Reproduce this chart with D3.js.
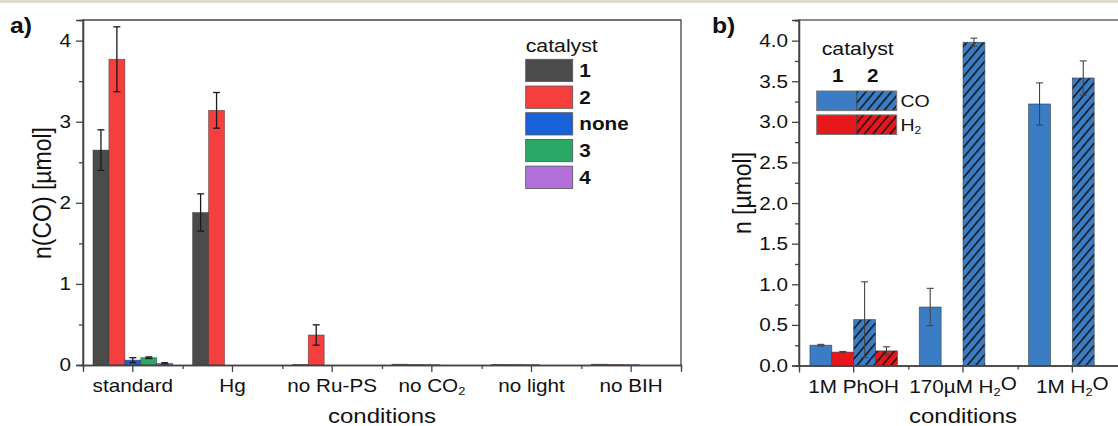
<!DOCTYPE html>
<html><head><meta charset="utf-8">
<script src="https://cdn.jsdelivr.net/npm/d3@7"></script>
<style>
html,body{margin:0;padding:0;background:#fff;}
svg{display:block;font-family:"Liberation Sans",Arial,sans-serif;}
</style></head>
<body>
<svg id="chart" width="1118" height="426"></svg>
<script>
// ---------- DATA: panel a ----------
const conditionsA = ["standard", "Hg", "no Ru-PS", "no CO_2", "no light", "no BIH"];
const catalystsA = ["1", "2", "none", "3", "4"];
const cat1Values = [2.65, 1.88, 0.005, 0.01, 0.006, 0.01];
const cat1Errors = [0.25, 0.23, 0, 0, 0, 0];
const cat2Values = [3.77, 3.14, 0.37, 0.006, 0.005, 0.006];
const cat2Errors = [0.40, 0.22, 0.125, 0, 0, 0];
const noneValues = [0.06, 0, 0, 0.004, 0.004, 0.004];
const noneErrors = [0.03, 0, 0, 0, 0, 0];
const cat3Values = [0.09, 0, 0, 0, 0, 0];
const cat3Errors = [0.01, 0, 0, 0, 0, 0];
const cat4Values = [0.02, 0, 0, 0, 0, 0];
const cat4Errors = [0.008, 0, 0, 0, 0, 0];
const yTicksA = [0, 1, 2, 3, 4];
const yMinorA = [0.5, 1.5, 2.5, 3.5];

// ---------- DATA: panel b ----------
const conditionsB = ["1M PhOH", "170µM H_2O", "1M H_2O"];
const seriesB = ["CO-1", "H2-1", "CO-2", "H2-2"];
const co1Values = [0.25, 0.72, 3.22];
const co1Errors = [0.01, 0.23, 0.26];
const h21Values = [0.165, 0, 0];
const h21Errors = [0.008, 0, 0];
const co2Values = [0.565, 3.98, 3.54];
const co2Errors = [0.465, 0.05, 0.21];
const h22Values = [0.18, 0, 0];
const h22Errors = [0.05, 0, 0];
const yTicksB = [0, 0.5, 1, 1.5, 2, 2.5, 3, 3.5, 4];
const yMinorB = [0.25, 0.75, 1.25, 1.75, 2.25, 2.75, 3.25, 3.75, 4.25];

// ---------- helpers ----------
const SX = 1.15;
const svg = d3.select("#chart");
svg.append("rect").attr("x",0).attr("y",0).attr("width",1118).attr("height",3).attr("fill","#dedbcc");

function richText(sel, str) {
  const parts = str.split("_");
  sel.append("tspan").text(parts[0]);
  for (let i = 1; i < parts.length; i++) {
    sel.append("tspan").attr("font-size","0.62em").attr("dy","0.3em").text(parts[i][0]);
    if (parts[i].length > 1) sel.append("tspan").attr("dy","-0.3em").text(parts[i].slice(1));
  }
}
function txt(x, y, str, o = {}) {
  const sx = o.sx || SX;
  const g = svg.append("g").attr("transform", `translate(${x},${y}) scale(${sx},1)` + (o.rot ? " rotate(-90)" : ""));
  const t = g.append("text").attr("text-anchor", o.anchor || "start")
    .attr("font-size", o.size || 18).attr("font-weight", o.bold ? "bold" : "normal")
    .attr("fill", o.fill || "#111");
  if (o.dy) t.attr("dy", o.dy);
  richText(t, str);
  return t;
}

const defs = svg.append("defs");
function hatch(id, color) {
  const p = defs.append("pattern").attr("id", id).attr("patternUnits","userSpaceOnUse")
    .attr("width", 6.5).attr("height", 6.5).attr("patternTransform","rotate(40)");
  p.append("rect").attr("width",6.5).attr("height",6.5).attr("fill",color);
  p.append("line").attr("x1",0.8).attr("y1",0).attr("x2",0.8).attr("y2",6.5).attr("stroke","#111").attr("stroke-width",1.5);
}
const blueB = "#3a7dc5", redB = "#e8171c";
hatch("hatchBlue", blueB);
hatch("hatchRed", redB);

// ================= PANEL A =================
const aL = 83, aR = 681, aT = 20, aB = 365;
const xA = d3.scaleBand().domain(conditionsA).range([aL, aR]).paddingInner(0.2).paddingOuter(0.1);
const xAin = d3.scaleBand().domain(catalystsA).range([0, xA.bandwidth()]);
const yA = d3.scaleLinear().domain([0, 4.254]).range([aB, aT]);
const colorsA = {"1":"#4b4b4b","2":"#f53f3f","none":"#1862d8","3":"#2aa865","4":"#b06fd9"};
const valsA = {"1":cat1Values,"2":cat2Values,"none":noneValues,"3":cat3Values,"4":cat4Values};
const errsA = {"1":cat1Errors,"2":cat2Errors,"none":noneErrors,"3":cat3Errors,"4":cat4Errors};

const gA = svg.append("g");
catalystsA.forEach(c => {
  conditionsA.forEach((cond, i) => {
    const v = valsA[c][i];
    if (v <= 0) return;
    gA.append("rect").attr("x", xA(cond) + xAin(c)).attr("width", xAin.bandwidth())
      .attr("y", yA(v)).attr("height", yA(0) - yA(v))
      .attr("fill", colorsA[c]).attr("stroke", "#2a2a2a").attr("stroke-width", 0.7).attr("stroke-opacity", 0.6);
  });
});
catalystsA.forEach(c => {
  conditionsA.forEach((cond, i) => {
    const v = valsA[c][i], e = errsA[c][i];
    if (e <= 0) return;
    const cx = xA(cond) + xAin(c) + xAin.bandwidth() / 2;
    const g = gA.append("g").attr("stroke", "#1a1a1a").attr("stroke-width", 1.3);
    g.append("line").attr("x1",cx).attr("x2",cx).attr("y1",yA(v-e)).attr("y2",yA(v+e));
    [v-e, v+e].forEach(t => g.append("line").attr("x1",cx-3.5).attr("x2",cx+3.5).attr("y1",yA(t)).attr("y2",yA(t)));
  });
});

// frame a
svg.append("path").attr("d", `M${aL},${aB}V${aT}H${aR}V${aB}`).attr("fill","none").attr("stroke","#444").attr("stroke-width",1.3);
// axes a
const axLA = svg.append("g").attr("transform",`translate(${aL},0)`)
  .call(d3.axisLeft(yA).tickValues(yTicksA).tickSize(7).tickFormat(""));
const axLAm = svg.append("g").attr("transform",`translate(${aL},0)`)
  .call(d3.axisLeft(yA).tickValues(yMinorA).tickSize(4).tickFormat(""));
const axBA = svg.append("g").attr("transform",`translate(0,${aB})`)
  .call(d3.axisBottom(xA).tickSize(7).tickFormat(""));
const boundsA = conditionsA.slice(1).map(c => xA(c) - (xA.step() - xA.bandwidth()) / 2);
const minorScaleA = d3.scaleLinear().domain([aL, aR]).range([aL, aR]);
const axBAm = svg.append("g").attr("transform",`translate(0,${aB})`)
  .call(d3.axisBottom(minorScaleA).tickValues(boundsA).tickSize(4).tickFormat(""));
[axLA, axLAm, axBA, axBAm].forEach(a => { a.select(".domain").attr("stroke","#444").attr("stroke-width",1.3); a.selectAll(".tick line").attr("stroke","#444").attr("stroke-width",1.3); });

yTicksA.forEach(t => txt(aL - 12, yA(t), String(t), {anchor:"end", dy:"0.36em"}));
conditionsA.forEach(c => txt(xA(c) + xA.bandwidth()/2, 391.5, c, {anchor:"middle"}));
txt((aL + aR) / 2, 422.5, "conditions", {anchor:"middle", size:19.5, sx:1.23});
txt(41.5, 193, "n(CO) [µmol]", {anchor:"middle", size:23, rot:true, dy:"0.36em"});
txt(10, 33, "a)", {size:21.5, bold:true});

// legend a
txt(525.7, 51.7, "catalyst", {size:18.5});
const legA = d3.scaleBand().domain(catalystsA).range([59.3, 59.3 + 26.7 * 5]);
catalystsA.forEach(c => {
  svg.append("rect").attr("x",525.7).attr("y",legA(c)).attr("width",47).attr("height",22.3)
    .attr("fill",colorsA[c]).attr("stroke","#555").attr("stroke-width",0.8);
  txt(579.3, legA(c) + 11.2, c, {bold:true, dy:"0.36em"});
});

// ================= PANEL B =================
const bL = 799, bR = 1127, bT = 20, bB = 365.5;
const xB = d3.scaleBand().domain(conditionsB).range([bL, bR]).paddingInner(0.2).paddingOuter(0.1);
const xBin = d3.scaleBand().domain(seriesB).range([0, xB.bandwidth()]);
const yB = d3.scaleLinear().domain([0, 4.254]).range([bB, bT]);
const fillsB = {"CO-1":blueB,"H2-1":redB,"CO-2":"url(#hatchBlue)","H2-2":"url(#hatchRed)"};
const valsB = {"CO-1":co1Values,"H2-1":h21Values,"CO-2":co2Values,"H2-2":h22Values};
const errsB = {"CO-1":co1Errors,"H2-1":h21Errors,"CO-2":co2Errors,"H2-2":h22Errors};

const gB = svg.append("g");
seriesB.forEach(s => {
  conditionsB.forEach((cond, i) => {
    const v = valsB[s][i];
    if (v <= 0) return;
    gB.append("rect").attr("x", xB(cond) + xBin(s)).attr("width", xBin.bandwidth())
      .attr("y", yB(v)).attr("height", yB(0) - yB(v))
      .attr("fill", fillsB[s]).attr("stroke", "#3a3a3a").attr("stroke-width", 0.8).attr("stroke-opacity", 0.7);
  });
});
seriesB.forEach(s => {
  conditionsB.forEach((cond, i) => {
    const v = valsB[s][i], e = errsB[s][i];
    if (e <= 0) return;
    const cx = xB(cond) + xBin(s) + xBin.bandwidth() / 2;
    const g = gB.append("g").attr("stroke", "#444").attr("stroke-width", 1.1);
    g.append("line").attr("x1",cx).attr("x2",cx).attr("y1",yB(v-e)).attr("y2",yB(v+e));
    [v-e, v+e].forEach(t => g.append("line").attr("x1",cx-3.5).attr("x2",cx+3.5).attr("y1",yB(t)).attr("y2",yB(t)));
  });
});

svg.append("path").attr("d", `M${bL},${bB}V${bT}H${bR}`).attr("fill","none").attr("stroke","#666").attr("stroke-width",1.6);
const axLB = svg.append("g").attr("transform",`translate(${bL},0)`)
  .call(d3.axisLeft(yB).tickValues(yTicksB).tickSize(7).tickFormat(""));
const axLBm = svg.append("g").attr("transform",`translate(${bL},0)`)
  .call(d3.axisLeft(yB).tickValues(yMinorB).tickSize(4).tickFormat(""));
const axBB = svg.append("g").attr("transform",`translate(0,${bB})`)
  .call(d3.axisBottom(xB).tickSize(7).tickFormat(""));
const boundsB = conditionsB.slice(1).map(c => xB(c) - (xB.step() - xB.bandwidth()) / 2);
const minorScaleB = d3.scaleLinear().domain([bL, bR]).range([bL, bR]);
const axBBm = svg.append("g").attr("transform",`translate(0,${bB})`)
  .call(d3.axisBottom(minorScaleB).tickValues(boundsB).tickSize(4).tickFormat(""));
[axLB, axLBm, axBB, axBBm].forEach(a => { a.select(".domain").attr("stroke","#444").attr("stroke-width",1.3); a.selectAll(".tick line").attr("stroke","#444").attr("stroke-width",1.3); });

yTicksB.forEach(t => txt(bL - 11, yB(t), d3.format(".1f")(t), {anchor:"end", dy:"0.36em"}));
conditionsB.forEach(c => txt(xB(c) + xB.bandwidth()/2, 392.5, c, {anchor:"middle"}));
txt(xB(conditionsB[1]) + xB.bandwidth()/2, 422.5, "conditions", {anchor:"middle", size:19.5, sx:1.23});
txt(741.5, 193, "n [µmol]", {anchor:"middle", size:23, rot:true, dy:"0.36em"});
txt(712, 33, "b)", {size:21.5, bold:true});

// legend b
const legendCats = ["1", "2"];
const legendGases = ["CO", "H_2"];
txt(821.7, 55, "catalyst", {size:18.5});
const legBx = d3.scaleBand().domain(legendCats).range([816.7, 896.7]);
const legBy = d3.scaleBand().domain(legendGases).range([91, 134.5]).paddingInner(0.18);
legendCats.forEach(c => txt(legBx(c) + legBx.bandwidth()/2 + (c === "1" ? 1 : -4), 81.7, c, {anchor:"middle", bold:true}));
const legFill = {"CO":[blueB,"url(#hatchBlue)"], "H_2":[redB,"url(#hatchRed)"]};
legendGases.forEach(gs => {
  legendCats.forEach((c, j) => {
    svg.append("rect").attr("x", legBx(c)).attr("y", legBy(gs)).attr("width", legBx.bandwidth()).attr("height", legBy.bandwidth())
      .attr("fill", legFill[gs][j]);
  });
  svg.append("rect").attr("x", 816.7).attr("y", legBy(gs)).attr("width", 80).attr("height", legBy.bandwidth())
    .attr("fill","none").attr("stroke","#777").attr("stroke-width",1);
  svg.append("line").attr("x1", legBx("2")).attr("x2", legBx("2")).attr("y1", legBy(gs)).attr("y2", legBy(gs)+legBy.bandwidth())
    .attr("stroke","#333").attr("stroke-width",0.8);
  txt(900.5, legBy(gs) + legBy.bandwidth()/2, gs, {size:17, dy:"0.36em"});
});
</script>
</body></html>
